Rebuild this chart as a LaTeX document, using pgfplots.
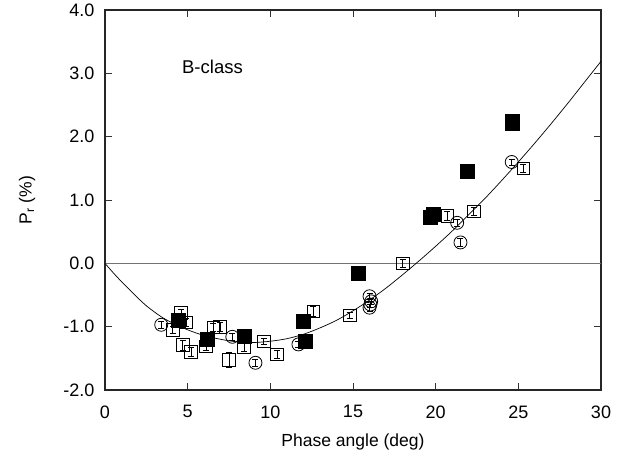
\documentclass[border=0pt]{standalone}
\usepackage{fontspec}
\setmainfont{Liberation Sans}
\usepackage{pgfplots}
\pgfplotsset{compat=1.18}

\begin{document}
\begin{tikzpicture}
\begin{axis}[
  scale only axis, width=496pt, height=380pt,
  xmin=0, xmax=30, ymin=-2, ymax=4,
  xtick={0,5,...,30}, ytick={-2,-1,...,4},
  xticklabels={0,5,10,15,20,25,30},
  yticklabels={-2.0,-1.0,0.0,1.0,2.0,3.0,4.0},
  tick align=inside, major tick length=7pt,
  axis line style={line width=1.2pt, black!85},
  every tick/.style={black!80, line width=0.9pt},
  tick label style={font=\fontsize{18}{20}\selectfont},
  xticklabel style={yshift=-12pt},
  yticklabel style={xshift=-7pt},
  xlabel={Phase angle (deg)},
  ylabel={P\textsubscript{r} (\%)},
  label style={font=\fontsize{17.5}{20}\selectfont},
  xlabel style={at={(axis description cs:0.5,0)}, anchor=base, yshift=-56pt},
  ylabel style={at={(axis description cs:-0.157,0.5)}, anchor=center},
]
% zero line
\addplot[black!55, line width=1.2pt] coordinates {(0,0) (30,0)};

% fitted curve
\addplot[black, line width=0.7pt, smooth] coordinates {
  (0,0) (0.5,-0.15) (1,-0.29) (1.5,-0.42) (2,-0.55) (2.5,-0.67) (3,-0.77)
  (3.5,-0.86) (4,-0.93) (5,-1.05) (6,-1.14) (7,-1.20) (8,-1.24) (9,-1.25)
  (10,-1.23) (11,-1.19) (12,-1.12) (13,-1.02) (14,-0.90) (15,-0.75)
  (16,-0.58) (17,-0.39) (18,-0.18) (19,0.04) (20,0.27) (21,0.51) (22,0.77)
  (23,1.03) (24,1.31) (25,1.60) (26,1.90) (27,2.21) (28,2.53) (29,2.86) (30,3.19)
};

% open squares
\addplot[only marks, mark=square, mark size=6.3pt, mark options={black, line width=0.8pt},
  error bars/.cd, y dir=both, y explicit,
  error bar style={black, line width=0.6pt},
  error mark options={rotate=90, black, mark size=3pt, line width=0.6pt}]
  table[x=x, y=y, y error=e] {
x y e
4.6 -0.78 0.06
4.9 -0.93 0.07
4.1 -1.05 0.06
4.7 -1.29 0.08
5.2 -1.40 0.07
6.1 -1.31 0.07
6.55 -1.01 0.07
6.95 -1.00 0.07
7.5 -1.52 0.12
8.4 -1.33 0.06
9.6 -1.23 0.05
10.4 -1.44 0.06
12.6 -0.76 0.08
14.8 -0.82 0.05
18.0 0.0 0.06
20.7 0.75 0.07
22.3 0.82 0.06
25.3 1.50 0.07
};

% open circles
\addplot[only marks, mark=o, mark size=6.5pt, mark options={black, line width=0.8pt},
  error bars/.cd, y dir=both, y explicit,
  error bar style={black, line width=0.6pt},
  error mark options={rotate=90, black, mark size=3pt, line width=0.6pt}]
  table[x=x, y=y, y error=e] {
x y e
3.4 -0.97 0.06
7.7 -1.16 0.05
9.1 -1.57 0.06
11.7 -1.28 0.05
16.0 -0.52 0.05
16.1 -0.60 0.05
16.05 -0.65 0.05
16.0 -0.70 0.05
21.3 0.64 0.06
21.5 0.33 0.06
24.6 1.60 0.05
};

% filled squares
\addplot[only marks, mark=square*, mark size=7pt, mark options={black, fill=black}]
  table[x=x, y=y] {
x y
4.4 -0.89
6.2 -1.19
8.4 -1.15
12.0 -0.91
12.1 -1.23
15.3 -0.16
19.65 0.73
19.85 0.77
21.9 1.46
24.6 2.21
24.65 2.25
};

\node[font=\fontsize{18.5}{20}\selectfont] at (axis cs:6.5,3.1) {B-class};
\end{axis}
\path ([shift={(-105pt,-65pt)}]current axis.south west) rectangle ([shift={(37pt,10pt)}]current axis.north east);
\end{tikzpicture}
\end{document}
